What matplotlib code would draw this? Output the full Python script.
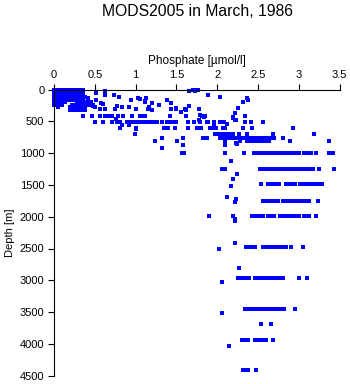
import matplotlib
matplotlib.use("Agg")
import matplotlib.pyplot as plt

# dense cluster near the surface: one list of phosphate values per depth row
block_depth = [0, 40, 80, 120, 160, 200, 240, 280, 320]
block_phos = [
    [0.0, 0.035, 0.07, 0.105, 0.14, 0.175, 0.21, 0.245, 0.28, 0.315, 0.35],
    [0.0, 0.035, 0.07, 0.105, 0.14, 0.175, 0.21, 0.245, 0.28, 0.315, 0.35],
    [0.0, 0.035, 0.07, 0.105, 0.14, 0.175, 0.21, 0.245, 0.28, 0.315, 0.35],
    [0.0, 0.035, 0.07, 0.105, 0.14, 0.175, 0.21, 0.245, 0.28, 0.315, 0.35, 0.38],
    [0.0, 0.035, 0.07, 0.105, 0.14, 0.175, 0.21, 0.245, 0.28, 0.315, 0.35, 0.42],
    [0.0, 0.035, 0.07, 0.105, 0.14, 0.28, 0.315, 0.35, 0.385, 0.42, 0.45],
    [0.0, 0.035, 0.07, 0.1, 0.22, 0.255, 0.29, 0.325, 0.36, 0.4, 0.44, 0.48],
    [0.05, 0.2, 0.235, 0.27, 0.305, 0.34, 0.375, 0.5],
    [0.2, 0.235, 0.27, 0.305, 0.34, 0.38],
]

# standard-depth rows (upper ocean and deep casts)
row_depth = [306, 412, 516, 610, 705, 757, 810, 1003, 1255, 1490, 1748, 1989,
             2470, 2968, 3456, 3692, 3939, 4415]
row_phos = [
    [0.56, 0.62, 0.75, 1.01, 1.15, 1.17, 1.44, 1.49, 1.78],
    [0.36, 0.47, 0.56, 0.62, 0.66, 0.71, 0.79, 0.84, 0.96, 1.05, 1.07, 1.11,
     1.42, 1.62, 1.81, 1.85, 2.34],
    [0.5, 0.6, 0.71, 0.77, 0.81, 0.89, 0.92, 0.95, 0.98, 1.01, 1.04, 1.07, 1.1,
     1.13, 1.16, 1.19, 1.22, 1.26, 1.32, 1.39, 1.42, 1.46, 1.5, 1.64, 1.72,
     1.79, 1.89, 1.96, 2.03, 2.09, 2.34, 2.42, 2.56],
    [0.81, 1.01, 1.35, 1.38, 1.4, 1.48, 1.64, 1.75, 1.78, 1.8, 1.91, 1.94,
     1.97, 1.99, 2.07, 2.1, 2.32, 2.43, 2.93],
    [0.99, 1.97, 2.02, 2.07, 2.1, 2.15, 2.2, 2.27, 2.37, 2.68, 3.19],
    [1.32, 1.58, 1.83, 1.87, 2.03, 2.06, 2.09, 2.12, 2.15, 2.18, 2.21, 2.24,
     2.27, 2.3, 2.33, 2.36, 2.39, 2.42, 2.45, 2.5, 2.55, 2.6, 2.62, 2.66,
     2.7, 2.81],
    [1.24, 1.51, 2.1, 2.28, 2.36, 2.38, 2.41, 2.45, 2.48, 2.5, 2.54, 2.57,
     2.6, 2.64, 2.89, 3.37],
    [1.57, 1.59, 2.1, 2.1, 2.33, 2.45, 2.48, 2.51, 2.56, 2.59, 2.62, 2.65,
     2.68, 2.71, 2.74, 2.77, 2.79, 2.82, 2.85, 2.87, 2.89, 2.92, 2.95, 2.98,
     3.0, 3.07, 3.11, 3.15, 3.21, 3.37, 3.42],
    [2.06, 2.1, 2.53, 2.56, 2.59, 2.62, 2.65, 2.68, 2.71, 2.75, 2.79, 2.83,
     2.86, 2.89, 2.92, 2.95, 2.98, 3.01, 3.03, 3.06, 3.09, 3.12, 3.14, 3.17,
     3.25, 3.43],
    [2.54, 2.62, 2.65, 2.68, 2.71, 2.74, 2.76, 2.85, 2.88, 2.91, 2.94, 2.96,
     3.02, 3.05, 3.08, 3.11, 3.14, 3.16, 3.18, 3.22, 3.25, 3.29],
    [2.56, 2.59, 2.62, 2.65, 2.68, 2.71, 2.74, 2.81, 2.84, 2.87, 2.9, 2.93,
     2.95, 2.97, 3.0, 3.03, 3.06, 3.08, 3.13, 3.24],
    [1.9, 2.19, 2.43, 2.46, 2.49, 2.52, 2.56, 2.62, 2.65, 2.68, 2.7, 2.77,
     2.8, 2.83, 2.86, 2.89, 2.92, 2.95, 2.97, 3.0, 3.07, 3.1, 3.12, 3.21],
    [2.35, 2.38, 2.42, 2.46, 2.56, 2.59, 2.62, 2.65, 2.68, 2.71, 2.73, 2.76,
     2.79, 2.82, 2.85, 2.91, 3.05],
    [2.26, 2.29, 2.32, 2.34, 2.39, 2.46, 2.48, 2.5, 2.52, 2.55, 2.58, 2.61,
     2.64, 2.67, 2.7, 2.73, 2.77, 2.81, 3.0, 3.1],
    [2.34, 2.37, 2.4, 2.43, 2.46, 2.5, 2.55, 2.58, 2.61, 2.64, 2.68, 2.73,
     2.76, 2.79, 2.82, 2.96],
    [2.54, 2.66],
    [2.3, 2.33, 2.35, 2.38, 2.46, 2.48, 2.5, 2.53, 2.56, 2.6, 2.68],
    [2.32, 2.35, 2.38, 2.48],
]

# scattered single observations
pt_phos = [0.52, 0.62, 0.62, 0.73, 0.8, 0.94, 1.03, 1.13, 1.11, 0.52, 0.42,
           0.58, 0.6, 0.48, 0.77, 0.83, 0.92, 0.76, 0.83, 0.92, 1.01,
           1.66, 1.7, 1.73, 1.76, 1.72, 1.89, 2.03, 1.05, 1.11, 1.2, 1.17,
           1.2, 1.29, 1.38, 1.43, 1.49, 1.56, 1.62, 1.66, 1.6, 1.79, 1.84,
           1.78, 1.87, 1.96, 2.12, 2.1, 2.22, 2.2, 2.23, 2.26, 1.33, 1.58,
           2.1, 2.23, 2.17, 2.36, 2.38, 2.32, 2.2, 2.22, 2.24, 2.24, 2.2,
           2.17, 2.12, 2.23, 2.22, 2.22, 2.22, 2.22, 2.02, 2.27, 2.06, 2.06,
           2.15]
pt_depth = [60, 24, 80, 86, 122, 165, 140, 140, 180, 165, 128,
            217, 230, 255, 260, 270, 270, 470, 558, 558, 620,
            30, 15, 20, 10, 0, 86, 113, 150, 190, 217, 270,
            322, 244, 165, 217, 296, 348, 322, 260, 312, 400, 427,
            480, 516, 569, 547, 600, 374, 453, 480, 296, 915, 872,
            872, 846, 1124, 140, 165, 200, 437, 480, 862, 1333, 1412,
            1512, 1685, 1726, 1764, 2036, 2060, 2420, 2512, 2810, 3020, 3518,
            4028]

x_ticks = [0, 0.5, 1, 1.5, 2, 2.5, 3, 3.5]
x_tick_labels = ["0", "0.5", "1", "1.5", "2", "2.5", "3", "3.5"]
y_ticks = [0, 500, 1000, 1500, 2000, 2500, 3000, 3500, 4000, 4500]


def main():
    plt.rcParams["font.family"] = ["Liberation Sans", "DejaVu Sans"]

    fig = plt.figure(figsize=(3.5, 3.84), dpi=100)
    ax = fig.add_axes([54 / 350, 1 - 375.7 / 384, 285.5 / 350, 286.2 / 384])

    xs, ys = [], []
    for d, ps in zip(block_depth, block_phos):
        xs += ps
        ys += [d] * len(ps)
    for d, ps in zip(row_depth, row_phos):
        xs += ps
        ys += [d] * len(ps)
    xs += pt_phos
    ys += pt_depth

    ax.plot(xs, ys, "s", color="#0000ff", ms=2.3, mew=0, linestyle="none",
            clip_on=False)

    ax.set_xlim(0, 3.5)
    ax.set_ylim(4500, 0)
    ax.set_xticks(x_ticks)
    ax.set_xticklabels(x_tick_labels)
    ax.set_yticks(y_ticks)

    ax.xaxis.tick_top()
    ax.xaxis.set_label_position("top")
    for side in ["right", "bottom"]:
        ax.spines[side].set_visible(False)
    for side in ["top", "left"]:
        ax.spines[side].set_linewidth(0.8)
    ax.tick_params(direction="out", length=4, width=0.8, labelsize=8, pad=3)

    ax.set_xlabel("Phosphate [\u00b5mol/l]", fontsize=8.5, labelpad=4)
    ax.set_ylabel("Depth [m]", fontsize=8, labelpad=3)
    fig.text(197 / 350, 1 - 11 / 384, "MODS2005 in March, 1986",
             ha="center", va="center", fontsize=11.3)

    fig.savefig("out.png", dpi=100)


if __name__ == "__main__":
    main()
